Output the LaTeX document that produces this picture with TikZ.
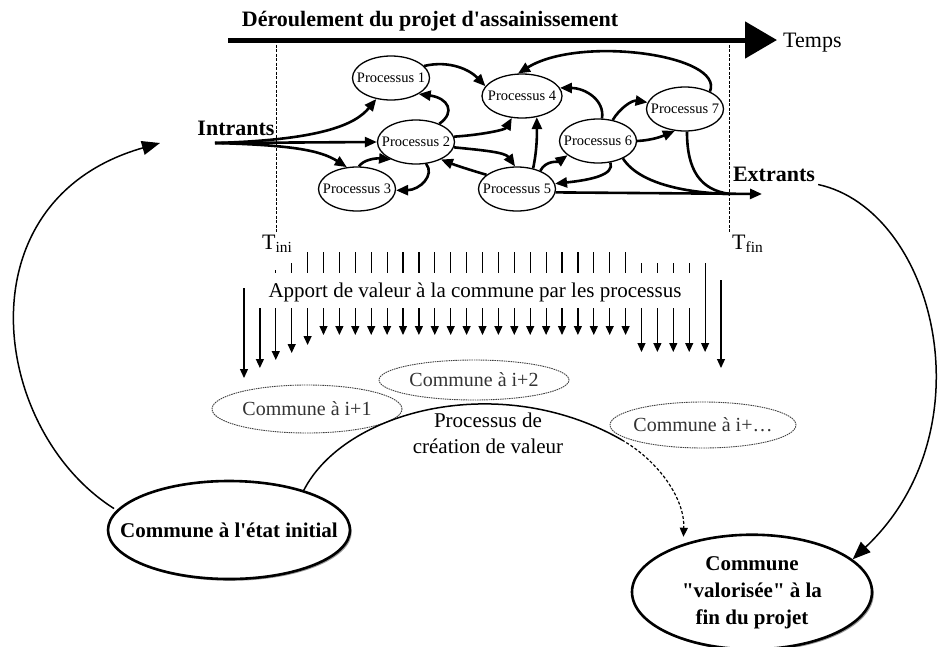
\documentclass[tikz,border=0pt]{standalone}
\usepackage{fontspec}
\setmainfont{Liberation Serif}[Ligatures=TeXOff]
\usetikzlibrary{arrows.meta,shapes.geometric,shadows}
\newcommand{\myfs}[1]{\fontsize{#1}{#1}\selectfont}
\begin{document}
\begin{tikzpicture}[x=1pt,y=-1pt,
 proc/.style={draw,ellipse,line width=1.3pt,minimum width=77pt,minimum height=44pt,inner sep=0pt,font=\myfs{14.5}},
 parr/.style={line width=2.6pt,-{Triangle[length=12pt,width=10pt]}},
 plin/.style={line width=2.6pt},
 varr/.style={line width=1.2pt,-{Triangle[length=9pt,width=8pt]}},
 tickl/.style={line width=1.2pt},
 bigarr/.style={line width=1.5pt,-{Triangle[length=18pt,width=14pt]}},
 dashell/.style={draw=black!75,ellipse,dash pattern=on 1.5pt off 0.8pt,line width=0.9pt,inner sep=0pt,text=black!80,font=\myfs{20}},
 bigell/.style={draw,ellipse,line width=2.6pt,fill=white,inner sep=0pt,font=\bfseries\fontsize{21}{27}\selectfont,drop shadow={shadow xshift=1.8pt,shadow yshift=-1.8pt,fill=black!40,opacity=1}},
 vline/.style={dash pattern=on 3pt off 1.5pt,line width=0.7pt},
 lbl/.style={inner sep=0pt,font=\myfs{22}},
 blbl/.style={inner sep=0pt,font=\bfseries\myfs{22}},
]
\useasboundingbox (0,0) rectangle (938,646);

% time axis
\coordinate (ts) at (228,40);
\coordinate (te) at (777,40);
\draw[line width=5pt,-{Triangle[length=32pt,width=36pt]}] (ts) -- (te);
\node[blbl] (title) at (430,21) {Déroulement du projet d'assainissement};
\node[lbl,anchor=west] (temps) at (783,43) {Temps};

% time limits
\coordinate (vl1) at (276,40); \coordinate (vl2) at (276,232);
\coordinate (vr1) at (729,40); \coordinate (vr2) at (729,232);
\draw[vline] (vl1) -- (vl2);
\draw[vline] (vr1) -- (vr2);
\node[lbl,anchor=base west] (tini) at (262,249) {T\textsubscript{ini}};
\node[lbl,anchor=base west] (tfin) at (732,249) {T\textsubscript{fin}};

% processes
\node[proc] (P1) at (391,78) {\makebox[0pt]{Processus 1}};
\node[proc] (P2) at (416,142) {\makebox[0pt]{Processus 2}};
\node[proc] (P3) at (357,189) {\makebox[0pt]{Processus 3}};
\node[proc,minimum width=80pt] (P4) at (522,96) {\makebox[0pt]{Processus 4}};
\node[proc] (P5) at (517,189) {\makebox[0pt]{Processus 5}};
\node[proc] (P6) at (598,141) {\makebox[0pt]{Processus 6}};
\node[proc] (P7) at (685,109) {\makebox[0pt]{Processus 7}};

% inputs
\node[blbl] (intr) at (236,128) {Intrants};
\coordinate (in) at (215,143);
\draw[parr] (in) .. controls (320,140) and (355,125) .. (P1.235);
\draw[parr] (in) -- (P2.west);
\draw[parr] (in) .. controls (290,145) and (320,150) .. (P3.115);

% process links
\draw[parr] (P2.38) .. controls (456,112) and (448,98) .. (P1.-30);
\draw[parr] (P1.20) .. controls (450,60) and (470,70) .. (P4.165);
\draw[parr] (P3.85) .. controls (363,160) and (375,158) .. (P2.215);
\draw[parr] (P2.-65) .. controls (435,175) and (420,190) .. (P3.-2);
\draw[parr] (P2.8) .. controls (480,135) and (505,130) .. (P4.245);
\draw[parr] (P2.-8) .. controls (480,150) and (505,152) .. (P5.95);
\draw[parr] (P5.155) .. controls (470,170) and (455,165) .. (P2.-35);
\draw[parr] (P5.52) .. controls (537,150) and (537,135) .. (P4.-55);
\draw[parr] (P5.38) .. controls (546,160) and (558,162) .. (P6.205);
\draw[parr] (P6.-60) .. controls (615,175) and (590,180) .. (P5.8);
\draw[parr] (P6.80) .. controls (605,100) and (585,88) .. (P4.12);
\draw[parr] (P6.55) .. controls (620,108) and (632,100) .. (P7.170);
\draw[parr] (P6.0) .. controls (655,140) and (665,135) .. (P7.245);
\draw[parr] (P7.35) .. controls (725,55) and (580,35) .. (P4.100);

% outputs
\node[blbl,inner sep=3pt] (extr) at (774,174) {Extrants};
\coordinate (ext) at (730,194);
\coordinate (extip) at (762,194);
\draw[parr] (P5.-5) -- (extip);
\draw[plin] (P6.-35) .. controls (640,185) and (690,193) .. (ext);
\draw[plin] (P7.-85) .. controls (687,170) and (700,190) .. (ext);

% value contribution columns
\draw[varr] (244,288) -- (244,378);
\draw[varr] ({244+15.9},308) -- ({244+15.9},368);
\draw[tickl] ({244+2*15.9},270) -- ({244+2*15.9},273);
\draw[varr] ({244+2*15.9},308) -- ({244+2*15.9},360);
\draw[tickl] ({244+3*15.9},263) -- ({244+3*15.9},273);
\draw[varr] ({244+3*15.9},308) -- ({244+3*15.9},353);
\draw[tickl] ({244+4*15.9},252) -- ({244+4*15.9},273);
\draw[varr] ({244+4*15.9},308) -- ({244+4*15.9},345);
\foreach \k in {5,...,24} {
  \draw[tickl] ({244+\k*15.9},252) -- ({244+\k*15.9},273);
  \draw[varr] ({244+\k*15.9},308) -- ({244+\k*15.9},335);
}
\foreach \k in {25,...,28} {
  \draw[tickl] ({244+\k*15.9},263) -- ({244+\k*15.9},273);
  \draw[varr] ({244+\k*15.9},308) -- ({244+\k*15.9},352);
}
\draw[varr] ({244+29*15.9},263) -- ({244+29*15.9},352);
\draw[varr] ({244+30*15.9},280) -- ({244+30*15.9},368);
\node[inner sep=0pt,font=\myfs{21}] (apport) at (475,292) {Apport de valeur à la commune par les processus};

% intermediate states
\node[dashell,minimum width=190pt,minimum height=40pt] (C2) at (474,380) {\makebox[0pt]{Commune à i+2}};
\node[dashell,minimum width=190pt,minimum height=48pt] (C1) at (307,409) {\makebox[0pt]{Commune à i+1}};
\node[dashell,minimum width=186pt,minimum height=46pt] (Cn) at (703,425) {\makebox[0pt]{Commune à i+\ldots}};
\node[inner sep=0pt,font=\fontsize{21}{26}\selectfont,align=center] (pcv) at (488,433) {Processus de\\création de valeur};

% initial and final states
\node[bigell,minimum width=242pt,minimum height=98pt] (CI) at (229,530) {\makebox[0pt]{Commune à l'état initial}};
\node[bigell,minimum width=240pt,minimum height=112pt] (CV) at (752,592) {\makebox[0pt]{\raisebox{-8pt}{\begin{tabular}{@{}c@{}}Commune\\"valorisée" à la\\fin du projet\end{tabular}}}};

% value creation arc
\coordinate (vmid) at (622,440);
\draw[line width=1.5pt] (CI.28) .. controls (345,410) and (500,370) .. (vmid);
\draw[line width=1.2pt,dash pattern=on 3pt off 2pt,-{Triangle[length=9pt,width=8pt]},shorten >=7pt] (vmid) .. controls (660,462) and (685,500) .. (CV.145);

% loop arcs
\coordinate (intarr) at (160,143);
\draw[bigarr,shorten <=3pt] (CI.170) .. controls (-10,430) and (-40,200) .. (intarr);
\draw[bigarr] (extr.south east) .. controls (935,210) and (990,430) .. (CV.18);
\end{tikzpicture}
\end{document}
